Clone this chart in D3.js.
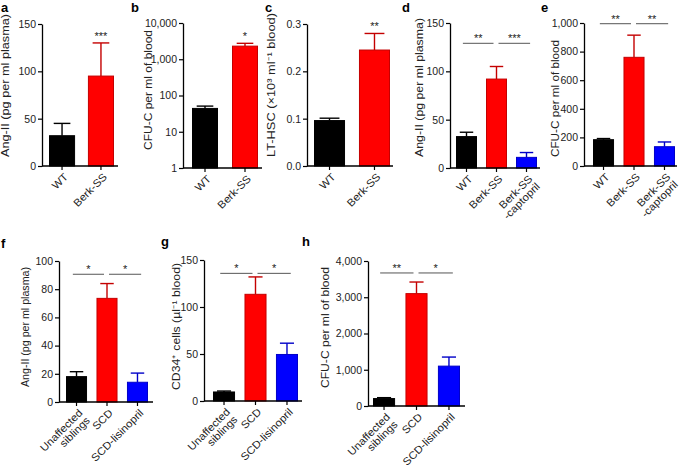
<!DOCTYPE html>
<html><head><meta charset="utf-8">
<script src="https://cdn.jsdelivr.net/npm/d3@7"></script>
<style>
body{margin:0;background:#fff;}
svg{display:block;font-family:"Liberation Sans",Arial,Helvetica,sans-serif;}
</style></head>
<body><svg id="chart" width="685" height="470"></svg>
<script>
// ---------- DATA ----------
const catsMouse2 = ["WT", "Berk-SS"];
const catsMouse3 = ["WT", "Berk-SS", "Berk-SS\n-captopril"];
const catsHuman3 = ["Unaffected\nsiblings", "SCD", "SCD-lisinopril"];

const meanA = [32, 95],      semA = [13, 35];
const meanB = [44, 2300],    semB = [7, 450];
const meanC = [0.096, 0.245], semC = [0.005, 0.035];
const meanD = [32.5, 92, 11], semD = [4.5, 13, 5];
const meanE = [184, 760, 135], semE = [8, 155, 33];
const meanF = [18, 73.5, 14],  semF = [3.5, 10.5, 6.5];
const meanG = [9.6, 113.5, 49.5], semG = [1, 18.5, 12];
const meanH = [205, 3100, 1100],  semH = [25, 320, 250];

const ticksA = [0, 50, 100, 150];
const ticksB = [1, 10, 100, 1000, 10000];
const ticksC = [0, 0.1, 0.2, 0.3];
const ticksD = [0, 50, 100, 150];
const ticksE = [0, 200, 400, 600, 800, 1000];
const ticksF = [0, 20, 40, 60, 80, 100];
const ticksG = [0, 50, 100, 150];
const ticksH = [0, 1000, 2000, 3000, 4000];

const labelA = "Ang-II (pg per ml plasma)";
const labelB = "CFU-C per ml of blood";
const labelC = "LT-HSC (×10³ ml⁻¹ blood)";
const labelD = "Ang-II (pg per ml plasma)";
const labelE = "CFU-C per ml of blood";
const labelF = "Ang-II (pg per ml plasma)";
const labelG = "CD34⁺ cells (µl⁻¹ blood)";
const labelH = "CFU-C per ml of blood";

// significance: single stars above a bar, or brackets between bars (level in data units)
const sigA = [{i: 1, text: "***"}];
const sigB = [{i: 1, text: "*"}];
const sigC = [{i: 1, text: "**"}];
const brD = [{from: 0, to: 1, level: 129, text: "**"}, {from: 1, to: 2, level: 129, text: "***"}];
const brE = [{from: 0, to: 1, level: 995, text: "**"}, {from: 1, to: 2, level: 995, text: "**"}];
const brF = [{from: 0, to: 1, level: 90.6, text: "*"}, {from: 1, to: 2, level: 90.6, text: "*"}];
const brG = [{from: 0, to: 1, level: 135.8, text: "*"}, {from: 1, to: 2, level: 135.8, text: "*"}];
const brH = [{from: 0, to: 1, level: 3670, text: "**"}, {from: 1, to: 2, level: 3670, text: "*"}];

const fills = ["#000000", "#ff0000", "#0000ff"];
const edges = ["#000000", "#c40000", "#0000c8"];

// ---------- LAYOUT ----------
const fmtComma = d3.format(",");
const panels = [
  {letter:"a", lx:1, ly:11.8, cats:catsMouse2, mean:meanA, sem:semA, ticks:ticksA, fmt:d3.format("d"), domain:[0,150],
   ax0:42, ax1:118, yt:24, yb:166, bx0:49, bx1:114, pad:0.33, label:labelA, tx:6, ty:85.5, tl:143, sig:sigA},
  {letter:"b", lx:131, ly:11.8, cats:catsMouse2, mean:meanB, sem:semB, ticks:ticksB, fmt:fmtComma, domain:[1,10000], log:true,
   ax0:183, ax1:262, yt:23, yb:168, bx0:192, bx1:258, pad:0.35, label:labelB, tx:149, ty:90, tl:120, sig:sigB},
  {letter:"c", lx:265, ly:11.8, cats:catsMouse2, mean:meanC, sem:semC, ticks:ticksC, fmt:d3.format(".1f"), domain:[0,0.3],
   ax0:307, ax1:393, yt:24, yb:166, bx0:314, bx1:390, pad:0.31, label:labelC, tx:272, ty:85, tl:144, sig:sigC},
  {letter:"d", lx:402, ly:11.8, cats:catsMouse3, mean:meanD, sem:semD, ticks:ticksD, fmt:d3.format("d"), domain:[0,150],
   ax0:450, ax1:540, yt:23, yb:168, bx0:456, bx1:537, pad:0.30, label:labelD, tx:420, ty:87.5, tl:139, br:brD},
  {letter:"e", lx:541, ly:11.8, cats:catsMouse3, mean:meanE, sem:semE, ticks:ticksE, fmt:fmtComma, domain:[0,1000],
   ax0:584, ax1:677, yt:23, yb:166, bx0:593, bx1:675, pad:0.31, label:labelE, tx:556, ty:98.5, tl:117, br:brE},
  {letter:"f", lx:1, ly:248, cats:catsHuman3, mean:meanF, sem:semF, ticks:ticksF, fmt:d3.format("d"), domain:[0,100],
   ax0:59, ax1:153, yt:261, yb:402, bx0:66, bx1:148, pad:0.31, label:labelF, tx:26, ty:327, tl:120, br:brF},
  {letter:"g", lx:161, ly:246, cats:catsHuman3, mean:meanG, sem:semG, ticks:ticksG, fmt:d3.format("d"), domain:[0,150],
   ax0:204, ax1:302, yt:260, yb:401, bx0:213, bx1:298, pad:0.30, label:labelG, tx:177, ty:326.5, tl:127, br:brG},
  {letter:"h", lx:302, ly:246, cats:catsHuman3, mean:meanH, sem:semH, ticks:ticksH, fmt:fmtComma, domain:[0,4000],
   ax0:368, ax1:465, yt:261, yb:406, bx0:373, bx1:460, pad:0.32, label:labelH, tx:326, ty:327.5, tl:121, br:brH}
];

const svg = d3.select("#chart");

function drawPanel(p) {
  const g = svg.append("g");
  const x = d3.scaleBand().domain(p.cats).range([p.bx0, p.bx1]).paddingInner(p.pad).paddingOuter(0);
  const y = (p.log ? d3.scaleLog() : d3.scaleLinear()).domain(p.domain).range([p.yb, p.yt]);
  const bw = x.bandwidth();
  const rows = p.cats.map((c, i) => ({c, i, m: p.mean[i], e: p.mean[i] + p.sem[i]}));

  // error bars (upper only)
  const cap = bw * 0.32;
  const eb = g.selectAll("g.err").data(rows).join("g").attr("class", "err")
    .attr("stroke", d => d.i === 0 ? "#000" : edges[d.i]).attr("stroke-width", 1.4);
  eb.append("line").attr("x1", d => x(d.c) + bw/2).attr("x2", d => x(d.c) + bw/2)
    .attr("y1", d => y(d.m)).attr("y2", d => y(d.e));
  eb.append("line").attr("x1", d => x(d.c) + bw/2 - cap).attr("x2", d => x(d.c) + bw/2 + cap)
    .attr("y1", d => y(d.e)).attr("y2", d => y(d.e));

  // bars
  g.selectAll("rect.bar").data(rows).join("rect").attr("class", "bar")
    .attr("x", d => x(d.c) + 0.5).attr("width", bw - 1)
    .attr("y", d => y(d.m)).attr("height", d => p.yb - y(d.m))
    .attr("fill", d => fills[d.i]).attr("stroke", d => edges[d.i]).attr("stroke-width", 1);

  // y axis
  const ya = g.append("g").attr("transform", `translate(${p.ax0},0)`)
    .call(d3.axisLeft(y).tickValues(p.ticks).tickFormat(p.fmt).tickSize(4).tickSizeOuter(0).tickPadding(2));
  ya.select(".domain").attr("stroke-width", 1.3);
  ya.selectAll(".tick line").attr("stroke-width", 1.2);
  ya.selectAll("text").attr("font-size", 10.5).attr("font-family", null).attr("fill", "#222");

  // x axis
  const xa = g.append("g").attr("transform", `translate(0,${p.yb})`)
    .call(d3.axisBottom(x).tickSize(4).tickSizeOuter(0).tickFormat(""));
  xa.select(".domain").remove();
  xa.selectAll(".tick line").attr("stroke-width", 1.2);
  g.append("line").attr("x1", p.ax0).attr("x2", p.ax1).attr("y1", p.yb).attr("y2", p.yb)
    .attr("stroke", "#000").attr("stroke-width", 1.3);

  // x tick labels rotated
  rows.forEach(d => {
    const t = g.append("text")
      .attr("transform", `translate(${x(d.c) + bw/2 + 4},${p.yb + 9}) rotate(-45) scale(1.07,1)`)
      .attr("text-anchor", "end").attr("font-size", 10.6).attr("fill", "#222");
    d.c.split("\n").forEach((line, k) => {
      t.append("tspan").attr("x", 0).attr("dy", k === 0 ? "0.35em" : "1.0em").text(line);
    });
  });

  // y label
  g.append("text").attr("transform", `translate(${p.tx},${p.ty}) rotate(-90)`)
    .attr("text-anchor", "middle").attr("dy", "0.3em").attr("font-size", 10.5).attr("fill", "#222")
    .attr("textLength", p.tl).attr("lengthAdjust", "spacingAndGlyphs").text(p.label);

  // panel letter
  g.append("text").attr("x", p.lx).attr("y", p.ly).attr("font-size", 13).attr("font-weight", "bold")
    .text(p.letter);

  // significance
  (p.sig || []).forEach(s => {
    g.append("text").attr("x", x(p.cats[s.i]) + bw/2).attr("y", y(rows[s.i].e) - 3)
      .attr("text-anchor", "middle").attr("font-size", 11).attr("fill", "#222").text(s.text);
  });
  (p.br || []).forEach(b => {
    const step = x.step();
    const c0 = x(p.cats[b.from]) + bw/2, c1 = x(p.cats[b.to]) + bw/2;
    const xs = b.from === 0 ? c0 - 0.12*step : c0 + 2;
    const xe = b.from === 0 ? c1 - 3 : c1 + 0.12*step;
    const yy = y(b.level);
    g.append("line").attr("x1", xs).attr("x2", xe).attr("y1", yy).attr("y2", yy)
      .attr("stroke", "#555").attr("stroke-width", 1);
    g.append("text").attr("x", (xs + xe)/2).attr("y", yy - 1)
      .attr("text-anchor", "middle").attr("font-size", 11).attr("fill", "#222").text(b.text);
  });
}

panels.forEach(drawPanel);
</script>
</body></html>
